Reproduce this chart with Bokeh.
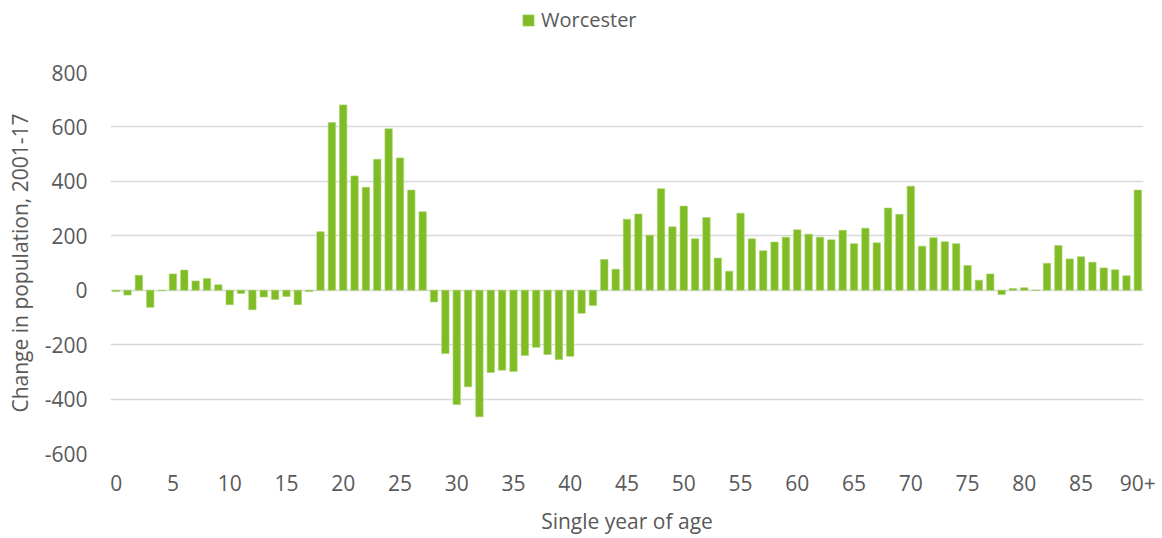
from bokeh.plotting import figure
from bokeh.layouts import column
from bokeh.models import FixedTicker, Legend, LegendItem, Range1d, ColumnDataSource
from bokeh.embed import file_html
from bokeh.resources import INLINE

ages = list(range(91))
tick_values = list(range(0, 91, 5))
tick_labels = {v: str(v) for v in tick_values}
tick_labels[90] = "90+"

changes = [
    -5, -18, 55, -63, -2, 60, 74, 34, 43, 20,
    -53, -12, -72, -25, -34, -23, -53, -5, 215, 616,
    681, 420, 378, 481, 593, 486, 368, 288, -43, -233,
    -420, -355, -465, -302, -294, -299, -240, -210, -236, -255,
    -243, -85, -56, 113, 77, 261, 280, 202, 373, 233,
    309, 189, 267, 118, 70, 283, 189, 145, 177, 195,
    222, 206, 195, 185, 220, 171, 228, 174, 302, 279,
    382, 162, 193, 178, 171, 91, 37, 60, -16, 6,
    9, 1, 99, 164, 115, 123, 103, 82, 75, 53,
    368,
]
series_name = "Worcester"
y_ticks = list(range(-600, 801, 200))
y_labels = {v: str(v) for v in y_ticks}

FONT = "Open Sans"
TXT = "#595959"
GREEN = "#80BC26"
EDGE = "#a6d46a"

src = ColumnDataSource(dict(age=ages, change=changes))

# main chart
p = figure(width=1159, height=497, output_backend="svg",
           toolbar_location=None,
           x_range=Range1d(-0.5, 90.5), y_range=Range1d(-600, 800),
           min_border_left=110, min_border_right=16, min_border_top=32,
           min_border_bottom=84)
p.outline_line_color = None
p.background_fill_color = "white"

r = p.vbar(x="age", top="change", width=0.65, source=src,
           fill_color=GREEN, line_color=EDGE, line_width=0.6)

p.xgrid.grid_line_color = None
p.ygrid.grid_line_color = "#d9d9d9"
p.ygrid.grid_line_width = 1.3
p.ygrid.ticker = FixedTicker(ticks=y_ticks)

p.xaxis.ticker = FixedTicker(ticks=tick_values)
p.xaxis.major_label_overrides = tick_labels
p.yaxis.ticker = FixedTicker(ticks=y_ticks)
p.yaxis.major_label_overrides = y_labels

for ax in (p.xaxis[0], p.yaxis[0]):
    ax.axis_line_color = None
    ax.major_tick_line_color = None
    ax.minor_tick_line_color = None
    ax.major_tick_out = 0
    ax.major_tick_in = 0
    ax.minor_tick_out = 0
    ax.minor_tick_in = 0
    ax.major_label_text_font = FONT
    ax.major_label_text_font_size = "21px"
    ax.major_label_text_color = TXT
    ax.axis_label_text_font = FONT
    ax.axis_label_text_font_size = "21px"
    ax.axis_label_text_color = TXT
    ax.axis_label_text_font_style = "normal"

p.xaxis.axis_label = "Single year of age"
p.yaxis.axis_label = "Change in population, 2001-17"
p.xaxis.major_label_standoff = 21
p.yaxis.major_label_standoff = 23
p.xaxis.axis_label_standoff = 13
p.yaxis.axis_label_standoff = 8

# legend strip above the chart (its renderer is hidden; only the key is shown)
leg_fig = figure(width=1159, height=40, output_backend="svg",
                 toolbar_location=None, min_border=0,
                 x_range=Range1d(1000, 1001), y_range=Range1d(0, 1))
leg_fig.axis.visible = False
leg_fig.grid.visible = False
leg_fig.outline_line_color = None
leg_r = leg_fig.vbar(x="age", top="change", width=0.65, source=src,
                     fill_color=GREEN, line_color=EDGE, line_width=0.6)
leg_r.visible = False
legend = Legend(items=[LegendItem(label=series_name, renderers=[leg_r], index=0)],
                orientation="horizontal", location=(411, 7),
                label_text_font=FONT, label_text_font_size="20px",
                label_text_color=TXT, glyph_width=14, glyph_height=14,
                label_standoff=6, border_line_color=None,
                background_fill_alpha=0, padding=0, margin=0, spacing=0,
                inactive_fill_alpha=0)
leg_fig.add_layout(legend, "center")

layout = column(leg_fig, p, spacing=0)
open("out.html", "w").write(file_html(layout, INLINE))
